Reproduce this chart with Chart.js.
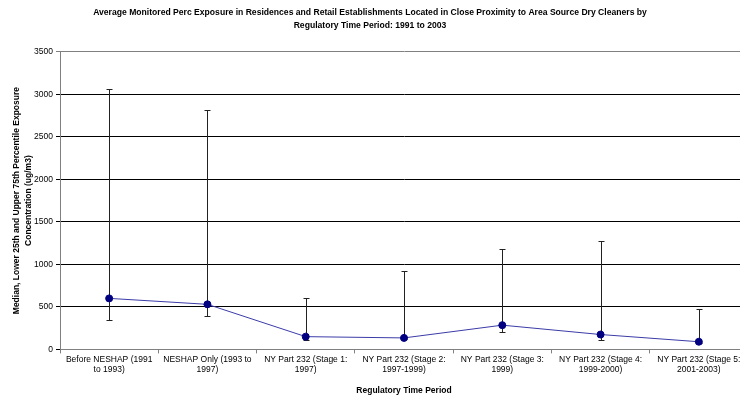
<!DOCTYPE html>
<html>
<head>
<meta charset="utf-8">
<script src="https://cdn.jsdelivr.net/npm/chart.js@4.4.0/dist/chart.umd.min.js"></script>
<style>
  html, body { margin: 0; padding: 0; background: #fff; overflow: hidden; }
  #wrap { width: 740px; height: 398px; overflow: hidden; }
</style>
</head>
<body>
<div id="wrap"><canvas id="myChart" width="760" height="398"></canvas></div>
<script>
// regulatory periods (two-line tick labels)
var periods = [
  ['Before NESHAP (1991', 'to 1993)'],
  ['NESHAP Only (1993 to', '1997)'],
  ['NY Part 232 (Stage 1:', '1997)'],
  ['NY Part 232 (Stage 2:', '1997-1999)'],
  ['NY Part 232 (Stage 3:', '1999)'],
  ['NY Part 232 (Stage 4:', '1999-2000)'],
  ['NY Part 232 (Stage 5:', '2001-2003)']
];
var medians = [600, 530, 150, 135, 285, 175, 90];
var lower25 = [350, 390, 110, 120, 210, 110, 80];
var upper75 = [3060, 2820, 600, 920, 1180, 1270, 470];

var ctx = document.getElementById('myChart');

// whiskers for 25th / 75th percentile, drawn under the line
var whiskers = {
  id: 'whiskers',
  beforeDatasetsDraw: function(chart) {
    var c = chart.ctx;
    var x = chart.scales.x, y = chart.scales.y;
    c.save();
    c.strokeStyle = '#222';
    c.lineWidth = 1;
    for (var i = 0; i < medians.length; i++) {
      var px = Math.round(x.getPixelForValue(i)) + 0.5;
      var top = Math.round(y.getPixelForValue(upper75[i])) + 0.5;
      var bot = Math.round(y.getPixelForValue(lower25[i])) + 0.5;
      c.beginPath();
      c.moveTo(px, top); c.lineTo(px, bot);
      c.moveTo(px - 3, top); c.lineTo(px + 3, top);
      c.moveTo(px - 3, bot); c.lineTo(px + 3, bot);
      c.stroke();
    }
    c.restore();
  }
};

var font = { family: '"Liberation Sans", Arial, sans-serif', size: 8.5 };

new Chart(ctx, {
  type: 'line',
  data: {
    labels: periods,
    datasets: [{
      data: medians,
      borderColor: '#3b3ba8',
      borderWidth: 1,
      backgroundColor: '#000080',
      pointBackgroundColor: '#000080',
      pointBorderColor: '#000080',
      pointRadius: 3.5,
      tension: 0
    }]
  },
  options: {
    responsive: false,
    animation: false,
    // negative left padding just recentres the title like the original
    layout: { padding: { left: -8, right: 12, top: 0, bottom: 0 } },
    plugins: {
      legend: { display: false },
      tooltip: { enabled: false },
      title: {
        display: true,
        text: ['Average Monitored Perc Exposure in Residences and Retail Establishments Located in Close Proximity to Area Source Dry Cleaners by',
               'Regulatory Time Period: 1991 to 2003'],
        color: '#000',
        font: { family: font.family, size: 8.6, weight: 'bold', lineHeight: 1.5 },
        padding: { top: 6, bottom: 20 }
      }
    },
    scales: {
      x: {
        offset: true,
        grid: { offset: true, drawOnChartArea: false, drawTicks: true, tickLength: 4, color: '#808080' },
        border: { color: '#808080', width: 1 },
        ticks: { color: '#000', font: font, maxRotation: 0, autoSkip: false, padding: 1 },
        title: {
          display: true,
          text: 'Regulatory Time Period',
          color: '#000',
          font: { family: font.family, size: 8.5, weight: 'bold' },
          padding: { top: 10, bottom: 2 }
        }
      },
      y: {
        min: 0,
        max: 3500,
        ticks: {
          stepSize: 500, color: '#000', font: font, padding: 3,
          callback: function(v) { return String(v); }
        },
        grid: {
          tickLength: 4,
          color: function(c) {
            if (c.tick && c.tick.value === 3500) return '#808080';
            return '#000';
          }
        },
        border: { color: '#808080', width: 1 },
        title: {
          display: true,
          text: ['Median, Lower 25th and Upper 75th Percentile Exposure', 'Concentration (ug/m3)'],
          color: '#000',
          font: { family: font.family, size: 8.5, weight: 'bold', lineHeight: 1.5 },
          padding: { top: 18, bottom: 4 }
        },
        afterFit: function(scale) { scale.width = 68; }
      }
    }
  },
  plugins: [whiskers]
});
</script>
</body>
</html>
